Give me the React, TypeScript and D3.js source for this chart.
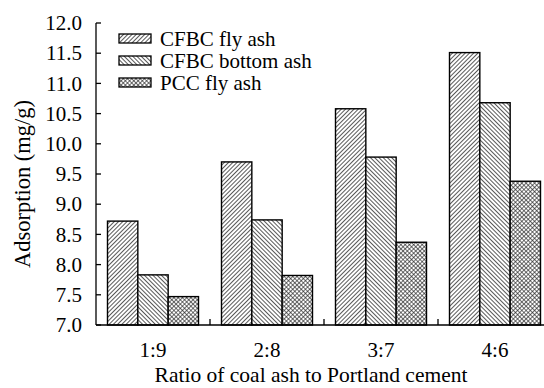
import * as d3 from "d3";

const ratios = ["1:9", "2:8", "3:7", "4:6"];
const seriesNames = ["CFBC fly ash", "CFBC bottom ash", "PCC fly ash"];
const cfbcFly = [8.72, 9.7, 10.58, 11.51];
const cfbcBottom = [7.83, 8.74, 9.78, 10.68];
const pccFly = [7.47, 7.82, 8.37, 9.38];
const yTicks = [7.0, 7.5, 8.0, 8.5, 9.0, 9.5, 10.0, 10.5, 11.0, 11.5, 12.0];

const allSeries = [cfbcFly, cfbcBottom, pccFly];
const patternIds = ["pat-fwd", "pat-back", "pat-cross"];
const font = "'Liberation Serif', 'Times New Roman', serif";

export default function App() {
  const width = 544;
  const height = 388;
  const margin = { top: 23, right: 0, bottom: 63, left: 96 };
  const plotBottom = height - margin.bottom;

  const x = d3
    .scaleBand<string>()
    .domain(ratios)
    .range([margin.left, margin.left + 456])
    .paddingInner(0)
    .paddingOuter(0);
  const inner = d3
    .scaleBand<number>()
    .domain([0, 1, 2])
    .range([11.5, x.bandwidth() - 11.5]);
  const y = d3.scaleLinear().domain([7, 12]).range([plotBottom, margin.top]);

  const boundaries = ratios.slice(1).map((r) => x(r) as number);

  return (
    <svg
      width={width}
      height={height}
      style={{ position: "absolute", left: 0, top: 0, background: "#fff" }}
      fontFamily={font}
    >
      <defs>
        <pattern id="pat-fwd" width="3" height="3" patternUnits="userSpaceOnUse" patternTransform="rotate(45)">
          <rect width="3" height="3" fill="#fff" />
          <line x1="0" y1="0" x2="0" y2="3" stroke="#111" strokeWidth="1.4" />
        </pattern>
        <pattern id="pat-back" width="3" height="3" patternUnits="userSpaceOnUse" patternTransform="rotate(-45)">
          <rect width="3" height="3" fill="#fff" />
          <line x1="0" y1="0" x2="0" y2="3" stroke="#111" strokeWidth="1.4" />
        </pattern>
        <pattern id="pat-cross" width="3" height="3" patternUnits="userSpaceOnUse" patternTransform="rotate(45)">
          <rect width="3" height="3" fill="#fff" />
          <line x1="0" y1="0" x2="0" y2="3" stroke="#222" strokeWidth="1.3" />
          <line x1="0" y1="0" x2="3" y2="0" stroke="#222" strokeWidth="1.3" />
        </pattern>
      </defs>

      {ratios.map((r, i) =>
        allSeries.map((vals, s) => (
          <rect
            key={`${r}-${s}`}
            x={(x(r) as number) + (inner(s) as number)}
            y={y(vals[i])}
            width={inner.bandwidth()}
            height={plotBottom - y(vals[i])}
            fill={`url(#${patternIds[s]})`}
            stroke="#000"
            strokeWidth={1.4}
          />
        ))
      )}

      {/* axes */}
      <line x1={margin.left} x2={margin.left} y1={margin.top} y2={plotBottom} stroke="#000" strokeWidth={1.3} />
      <line x1={margin.left} x2={width} y1={plotBottom} y2={plotBottom} stroke="#000" strokeWidth={1.3} />
      {yTicks.map((t) => (
        <g key={t}>
          <line x1={margin.left} x2={margin.left + 5} y1={y(t)} y2={y(t)} stroke="#000" strokeWidth={1.3} />
          <text x={82} y={y(t)} dy="0.34em" textAnchor="end" fontSize={21}>
            {t.toFixed(1)}
          </text>
        </g>
      ))}
      {boundaries.map((bx) => (
        <line key={bx} x1={bx} x2={bx} y1={plotBottom} y2={plotBottom - 6} stroke="#000" strokeWidth={1.3} />
      ))}
      {ratios.map((r) => (
        <text key={r} x={(x(r) as number) + x.bandwidth() / 2} y={357} textAnchor="middle" fontSize={21}>
          {r}
        </text>
      ))}
      <text x={311} y={382} textAnchor="middle" fontSize={21.5}>
        Ratio of coal ash to Portland cement
      </text>
      <text transform={`translate(30,184) rotate(-90)`} textAnchor="middle" fontSize={22.5}>
        Adsorption (mg/g)
      </text>

      {/* legend */}
      {seriesNames.map((name, s) => (
        <g key={name} transform={`translate(119,${34 + s * 22})`}>
          <rect width={32} height={9} fill={`url(#${patternIds[s]})`} stroke="#000" strokeWidth={1.3} />
          <text x={41} y={11.5} fontSize={21}>
            {name}
          </text>
        </g>
      ))}
    </svg>
  );
}
